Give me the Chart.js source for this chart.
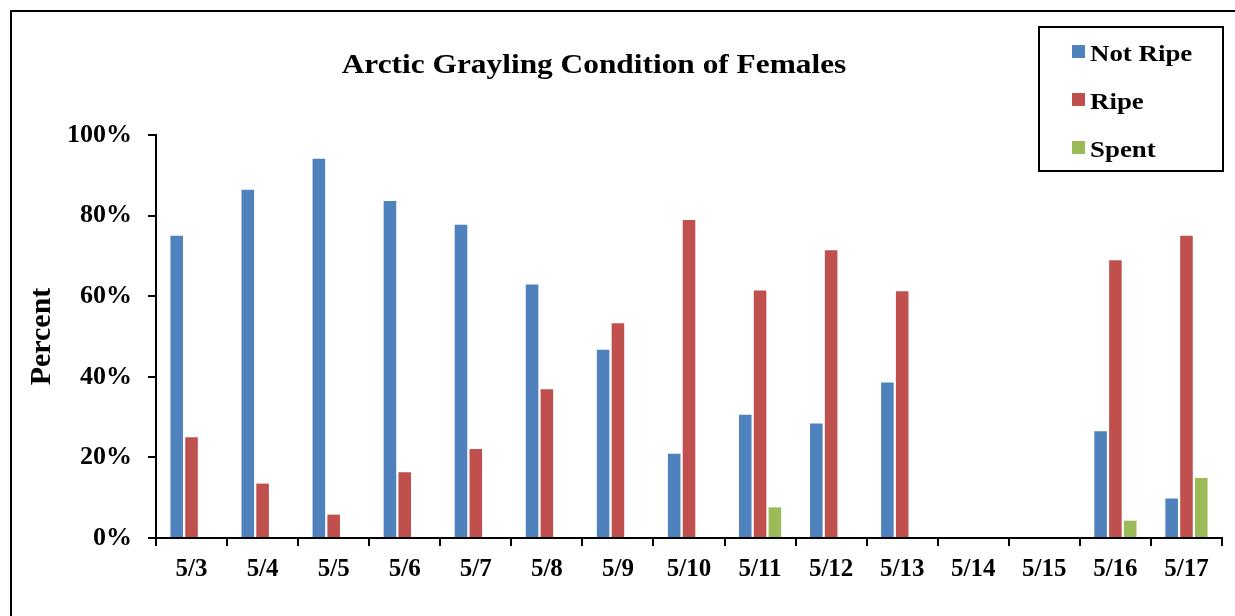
<!DOCTYPE html>
<html lang="en">
<head>
<meta charset="UTF-8">
<title>Arctic Grayling Condition of Females</title>
<script src="https://cdn.jsdelivr.net/npm/chart.js"></script>
<style>
  body { margin: 0; background: #fff; overflow: hidden; }
  #myChart { display: block; width: 1235px; height: 616px; }
</style>
</head>
<body>
<canvas id="myChart" width="1235" height="616"></canvas>
<script>
const chartTitle = 'Arctic Grayling Condition of Females';
const dates = ['5/3', '5/4', '5/5', '5/6', '5/7', '5/8', '5/9', '5/10', '5/11', '5/12', '5/13', '5/14', '5/15', '5/16', '5/17'];
// percent of females per day
const notRipe = [75, 86.4, 94.1, 83.6, 77.7, 62.9, 46.7, 20.9, 30.6, 28.4, 38.6, null, null, 26.5, 9.8];
const ripe    = [25, 13.5, 5.8, 16.3, 22.1, 36.9, 53.3, 78.9, 61.4, 71.4, 61.2, null, null, 68.9, 75];
const spent   = [0, 0, 0, 0, 0, 0, 0, 0, 7.6, 0, 0, null, null, 4.3, 14.9];
const yTicks  = [0, 20, 40, 60, 80, 100];

const serif = "'Liberation Serif', 'Times New Roman', serif";
Chart.defaults.font.family = serif;
Chart.defaults.font.weight = 'bold';
Chart.defaults.color = '#000';

// title, legend box and the outer frame (the picture has them drawn like in excel)
const frameAndLegend = {
  id: 'frameAndLegend',
  afterDraw(chart) {
    const ctx = chart.ctx;
    ctx.save();
    ctx.strokeStyle = '#000';
    ctx.lineWidth = 2;
    ctx.strokeRect(11, 11, 1400, 800);

    ctx.fillStyle = '#000';
    ctx.textBaseline = 'alphabetic';
    ctx.font = 'bold 28px ' + serif;
    ctx.save();
    ctx.translate(594, 73);
    ctx.scale(1.12, 1);
    ctx.textAlign = 'center';
    ctx.fillText(chartTitle, 0, 0);
    ctx.restore();

    ctx.strokeRect(1039, 27, 184, 144);
    ctx.font = 'bold 24px ' + serif;
    ctx.textAlign = 'left';
    chart.data.datasets.forEach((ds, i) => {
      const base = 61 + i * 48;
      ctx.fillStyle = ds.backgroundColor;
      ctx.fillRect(1072, base - 16, 13, 13);
      ctx.fillStyle = '#000';
      ctx.save();
      ctx.translate(1090, base);
      ctx.scale(1.12, 1);
      ctx.fillText(ds.label, 0, 0);
      ctx.restore();
    });
    ctx.restore();
  }
};

const data = {
  labels: dates,
  datasets: [
    { label: 'Not Ripe', data: notRipe, backgroundColor: '#4F81BD' },
    { label: 'Ripe', data: ripe, backgroundColor: '#C0504D' },
    { label: 'Spent', data: spent, backgroundColor: '#9BBB59' }
  ]
};

const config = {
  type: 'bar',
  data: data,
  options: {
    responsive: false,
    animation: false,
    categoryPercentage: 0.625,
    barPercentage: 0.85,
    layout: { padding: { top: 135, right: 13, bottom: 0, left: 0 } },
    plugins: {
      legend: { display: false },
      title: { display: false },
      tooltip: { enabled: false }
    },
    scales: {
      x: {
        afterFit: (scale) => { scale.height = 78; },
        grid: { offset: true, drawOnChartArea: false, color: '#000', lineWidth: 2, tickLength: 8 },
        border: { color: '#000', width: 2 },
        ticks: { font: { size: 25, weight: 'bold' }, padding: 9, maxRotation: 0, autoSkip: false }
      },
      y: {
        min: 0,
        max: 100,
        afterFit: (scale) => { scale.width = 156; },
        afterBuildTicks: (scale) => { scale.ticks = yTicks.map(v => ({ value: v })); },
        grid: { drawOnChartArea: false, color: '#000', lineWidth: 2, tickLength: 8 },
        border: { color: '#000', width: 2 },
        ticks: { font: { size: 26, weight: 'bold' }, padding: 16, callback: (v) => v + '%' },
        title: { display: true, text: 'Percent', font: { size: 30, weight: 'bold' }, padding: { top: 24 } }
      }
    }
  },
  plugins: [frameAndLegend]
};

const myChart = new Chart(document.querySelector('#myChart'), config);
</script>
</body>
</html>
